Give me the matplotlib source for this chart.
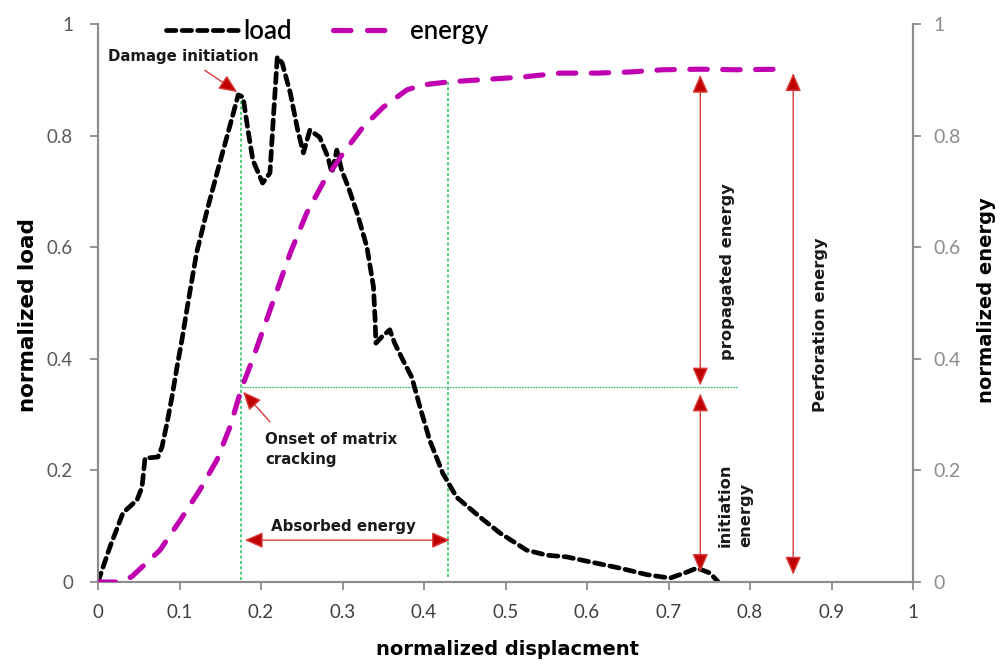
import matplotlib
matplotlib.use("Agg")
import matplotlib.pyplot as plt
from matplotlib import font_manager
from matplotlib.lines import Line2D

def pick(names):
    avail = {f.name for f in font_manager.fontManager.ttflist}
    for n in names:
        if n in avail:
            return n
    return "DejaVu Sans"

TICKFONT = pick(["Lato", "Open Sans", "DejaVu Sans"])
plt.rcParams["font.family"] = ["DejaVu Sans"]

# ---------------- data ----------------
load_x = [0.0, 0.0147, 0.0307, 0.0479, 0.054, 0.0577, 0.0736, 0.0785, 0.0847, 0.0908,
          0.0969, 0.103, 0.111, 0.121, 0.134, 0.146, 0.158, 0.166, 0.172, 0.178,
          0.184, 0.190, 0.202, 0.211, 0.215, 0.220, 0.226, 0.236, 0.245, 0.252,
          0.260, 0.272, 0.282, 0.287, 0.293, 0.299, 0.307, 0.318, 0.330, 0.338,
          0.340, 0.341, 0.348, 0.358, 0.364, 0.374, 0.385, 0.395, 0.407, 0.423,
          0.440, 0.469, 0.493, 0.526, 0.551, 0.575, 0.604, 0.640, 0.674, 0.702,
          0.723, 0.735, 0.751, 0.761]
load_y = [0.0, 0.063, 0.124, 0.147, 0.170, 0.222, 0.224, 0.242, 0.285, 0.332,
          0.385, 0.434, 0.505, 0.590, 0.667, 0.733, 0.797, 0.840, 0.873, 0.869,
          0.810, 0.756, 0.715, 0.733, 0.828, 0.941, 0.930, 0.876, 0.810, 0.769,
          0.810, 0.797, 0.762, 0.733, 0.774, 0.738, 0.708, 0.661, 0.600, 0.529,
          0.470, 0.428, 0.439, 0.452, 0.428, 0.398, 0.367, 0.314, 0.254, 0.195,
          0.152, 0.116, 0.088, 0.057, 0.048, 0.045, 0.036, 0.025, 0.013, 0.007,
          0.018, 0.025, 0.016, 0.0]

energy_x = [0.0, 0.023, 0.041, 0.076, 0.101, 0.125, 0.146, 0.162, 0.176, 0.190,
            0.211, 0.236, 0.256, 0.276, 0.301, 0.325, 0.350, 0.379, 0.399, 0.429,
            0.469, 0.521, 0.567, 0.612, 0.653, 0.693, 0.739, 0.784, 0.837]
energy_y = [0.0, 0.0, 0.009, 0.057, 0.111, 0.165, 0.219, 0.278, 0.347, 0.400,
            0.487, 0.590, 0.661, 0.715, 0.769, 0.815, 0.851, 0.882, 0.891, 0.896,
            0.900, 0.905, 0.912, 0.912, 0.914, 0.918, 0.919, 0.918, 0.919]

y_ticks = [0, 0.2, 0.4, 0.6, 0.8, 1]
y_labels = ["0", "0.2", "0.4", "0.6", "0.8", "1"]
x_ticks = [0, 0.1, 0.2, 0.3, 0.4, 0.5, 0.6, 0.7, 0.8, 0.9, 1]
x_labels = ["0", "0.1", "0.2", "0.3", "0.4", "0.5", "0.6", "0.7", "0.8", "0.9", "1"]

# guide lines
onset_x, onset_top = 0.176, 0.873
end_x, end_top = 0.429, 0.896
onset_level, level_end = 0.349, 0.785

# arrows: (x0, x1, y) and (x, y_top, y_bottom)
absorbed = (0.180, 0.432, 0.075)
propagated = (0.739, 0.909, 0.352)
initiation = (0.739, 0.338, 0.018)
perforation = (0.853, 0.912, 0.013)

# ---------------- figure ----------------
fig = plt.figure(figsize=(10.06, 6.66), dpi=100)
ax = fig.add_axes([98/1006, 84/666, 815/1006, 558/666])
ax2 = ax.twinx()

GRAY = "#8c8c8c"
GREEN = "#22c05a"
RED_LINE = "#d83c3c"
RED_HEAD = "#c00000"
MAGENTA = "#c000b0"

LOAD_LS = (0, (2.0, 1.3))
ENERGY_LS = (0, (3.4, 3.0))

ax.plot(load_x, load_y, color="black", lw=3.4, linestyle=LOAD_LS,
        dash_capstyle="round", zorder=4)
ax2.plot(energy_x, energy_y, color=MAGENTA, lw=3.7, linestyle=ENERGY_LS,
         dash_capstyle="round", zorder=4)

for a in (ax, ax2):
    a.set_xlim(0, 1)
    a.set_ylim(0, 1)

# green guide lines
gstyle = dict(color=GREEN, lw=1.1, linestyle=(0, (2, 1.5)), zorder=2)
ax.plot([onset_x, onset_x], [0.004, onset_top], **gstyle)
ax.plot([end_x, end_x], [0.009, end_top], **gstyle)
ax.plot([onset_x, level_end], [onset_level, onset_level], color=GREEN, lw=0.8,
        linestyle=(0, (1.5, 1)), zorder=2)

# spines / ticks
for a in (ax, ax2):
    a.spines["top"].set_visible(False)
    for s in ("left", "bottom", "right"):
        a.spines[s].set_color(GRAY)
        a.spines[s].set_linewidth(1.5)

ax.set_xticks(x_ticks)
ax.set_xticklabels(x_labels, fontfamily=TICKFONT)
ax.set_yticks(y_ticks)
ax.set_yticklabels(y_labels, fontfamily=TICKFONT)
ax2.set_yticks(y_ticks)
ax2.set_yticklabels(y_labels, fontfamily=TICKFONT)

ax.tick_params(axis="both", direction="out", length=6, width=1.3, color=GRAY,
               labelsize=13.5)
ax.tick_params(axis="y", labelcolor="#595959", pad=12)
ax.tick_params(axis="x", labelcolor="#404040", pad=10)
ax2.tick_params(axis="y", direction="out", length=6, width=1.3, color=GRAY,
                labelsize=14, labelcolor="#8c8c8c", pad=9)

ax.set_xlabel("normalized displacment", fontsize=14, fontweight="bold")
ax.xaxis.set_label_coords(0.503, -0.104)
ax.set_ylabel("normalized load", fontsize=15.5, fontweight="bold")
ax.yaxis.set_label_coords(-0.0736, 0.478)
ax2.set_ylabel("normalized energy", fontsize=14, fontweight="bold")
ax2.yaxis.set_label_coords(1.078, 0.505)

# legend
handles = [Line2D([], [], color="black", lw=3.4, linestyle=LOAD_LS,
                  dash_capstyle="round"),
           Line2D([], [], color=MAGENTA, lw=3.7, linestyle=(0, (3.4, 3.2, 3.4, 14)),
                  dash_capstyle="round")]
ax.legend(handles, ["load", "energy"], loc="center", ncol=2,
          bbox_to_anchor=(0.3256, 0.952), bbox_transform=fig.transFigure,
          frameon=False, prop={"family": TICKFONT, "size": 18.5, "weight": "semibold"},
          handlelength=2.88, handletextpad=0.12, columnspacing=1.6)

# annotations
ann_kw = dict(fontsize=10.8, fontweight="bold", color="#1a1a1a")
rot_kw = dict(fontsize=11.7, fontweight="bold", color="#1a1a1a")
ax.text(0.105, 0.941, "Damage initiation", ha="center", va="center", **ann_kw)
ax.text(0.205, 0.237, "Onset of matrix\ncracking", ha="left", va="center",
        linespacing=1.45, **ann_kw)
ax.text(0.301, 0.099, "Absorbed energy", ha="center", va="center", **ann_kw)
ax.text(0.772, 0.556, "propagated energy", rotation=90, ha="center", va="center", **rot_kw)
ax.text(0.782, 0.0627, "initiation\nenergy", rotation=90, ha="center", va="bottom",
        multialignment="left", linespacing=1.45, **rot_kw)
ax.text(0.886, 0.461, "Perforation energy", rotation=90, ha="center", va="center", **rot_kw)

def arrow(xy_to, xy_from, style):
    ax.annotate("", xy=xy_to, xytext=xy_from,
                arrowprops=dict(arrowstyle=style + ",head_length=0.8,head_width=0.35",
                                facecolor=RED_HEAD, edgecolor=RED_LINE, lw=1.0,
                                mutation_scale=14, shrinkA=0, shrinkB=0), zorder=5)

arrow((0.171, 0.878), (0.131, 0.917), "-|>")
arrow((0.178, 0.341), (0.211, 0.287), "-|>")
x0, x1, y = absorbed
arrow((x1, y), (x0, y), "<|-|>")
for (x, y0, y1) in [propagated, initiation, perforation]:
    arrow((x, y1), (x, y0), "<|-|>")

fig.savefig("out.png", dpi=100)
